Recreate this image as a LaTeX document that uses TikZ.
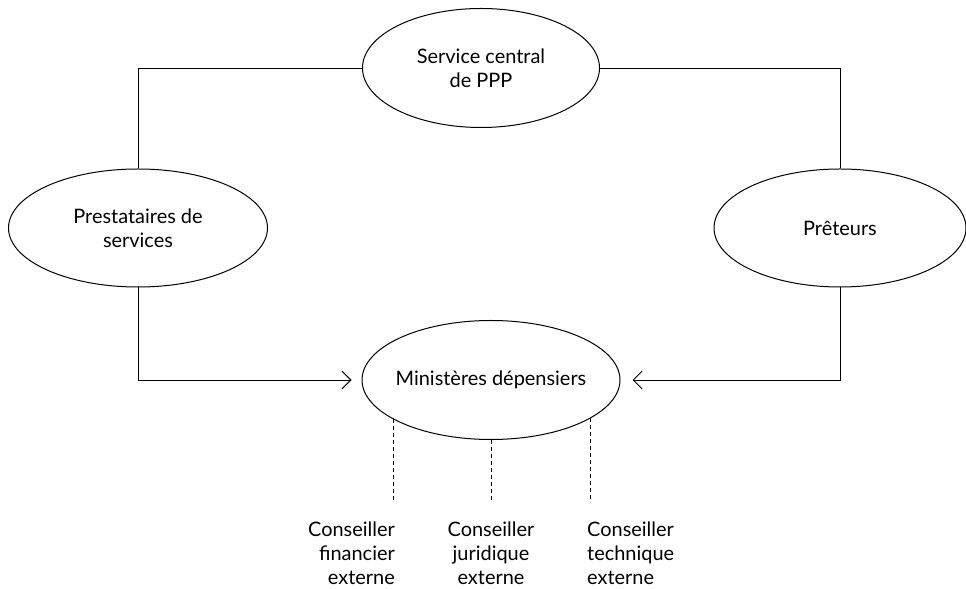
\documentclass[tikz,border=0pt]{standalone}
\usepackage{fontspec}
\setmainfont{Lato}
\usetikzlibrary{shapes.geometric}
\usetikzlibrary{arrows.meta,calc}
\tikzstyle{orga}=[
  >={Straight Barb[length=9bp,width=18bp]},font=\fontsize{20}{24}\selectfont
]
\tikzstyle{acteur}=[
  draw,ellipse,inner sep=0pt,align=center,line width=1bp
]
\tikzstyle{lien}=[
    line width=0.9bp
]
\tikzstyle{conseil}=[
    line width=0.9bp,dash pattern=on 4bp off 3bp
]
\tikzstyle{conseiller}=[
  inner sep=0pt
]

\begin{document}
\begin{tikzpicture}[orga]
    \useasboundingbox (0bp,0bp) rectangle (966bp,589bp);
    \node (central) at (481bp,521bp) [acteur,minimum width=237bp,minimum height=119bp] {Service central\\de PPP};
    \node (prest) at (138bp,361bp) [acteur,minimum width=259bp,minimum height=118bp] {Prestataires de\\services};
    \node (preteurs) at (840bp,361bp) [acteur,minimum width=252bp,minimum height=118bp] {Prêteurs};
    \node (min) at (491bp,209bp) [acteur,inner xsep=-6bp,minimum width=258bp,minimum height=119bp] {Ministères dépensiers};
    \coordinate (bas) at (491bp,89bp);
    \node (fin) at (395bp,5bp) [conseiller,anchor=base east,align=right] {Conseiller\\financier\\externe};
    \node (jur) at (491bp,5bp) [conseiller,anchor=base,align=center] {Conseiller\\juridique\\externe};
    \node (tech) at (587bp,5bp) [conseiller,anchor=base west,align=left] {Conseiller\\technique\\externe};
    \draw [lien] (central.west) -| (prest.north);
    \draw [lien] (central.east) -| (preteurs.north);
    \draw [lien,->,shorten >=10bp] (prest.south) |- (min.west);
    \draw [lien,->,shorten >=12bp] (preteurs.south) |- (min.east);
    \draw [conseil] (min.202) -- (min.202 |- bas);
    \draw [conseil] (min.south) -- (bas);
    \draw [conseil] (min.339) -- (min.339 |- bas);
\end{tikzpicture}
\end{document}
